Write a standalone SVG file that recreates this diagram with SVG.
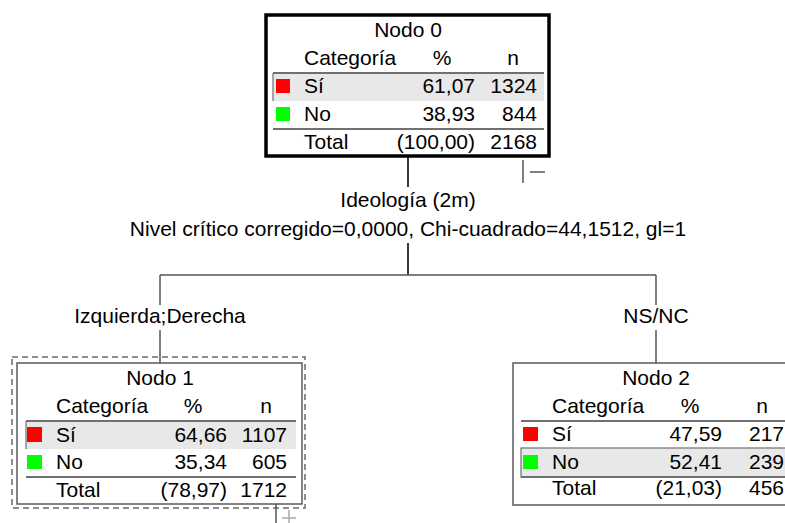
<svg xmlns="http://www.w3.org/2000/svg" width="785" height="523" viewBox="0 0 785 523">
  <style>
    text { font-family: "Liberation Sans", Arial, sans-serif; font-size: 21px; fill: #000; }
    .c { text-anchor: middle; }
    .r { text-anchor: end; }
    .box { fill: #fff; stroke: #5a5a5a; stroke-width: 1.5; }
    .box0 { fill: #fff; stroke: #000; stroke-width: 3.5; }
    .sel { fill: none; stroke: #6a6a6a; stroke-width: 1.5; stroke-dasharray: 6 4; }
    .sep { stroke: #707070; stroke-width: 2; }
    .hl { fill: #e8e8e8; }
    .hledge { stroke: #707070; stroke-width: 1.2; fill: none; }
    .red { fill: #ff0000; }
    .green { fill: #00ff00; }
    .link { stroke: #555; stroke-width: 1.5; fill: none; }
    .trunk { stroke: #222; stroke-width: 1.8; fill: none; }
    .toggle { stroke: #555; stroke-width: 1.5; fill: none; }
    .toggle-light { stroke: #aaa; stroke-width: 1.5; fill: none; }
  </style>

  <!-- connectors -->
  <g id="connectors">
    <line class="trunk" x1="408" y1="157" x2="408" y2="187"/>
    <line class="trunk" x1="408" y1="243" x2="408" y2="275"/>
    <line class="link" x1="160" y1="275" x2="656" y2="275"/>
    <line class="link" x1="160" y1="275" x2="160" y2="305"/>
    <line class="link" x1="160" y1="330" x2="160" y2="363"/>
    <line class="link" x1="656" y1="275" x2="656" y2="305"/>
    <line class="link" x1="656" y1="330" x2="656" y2="363"/>
    <text class="c" x="408" y="207">Ideología (2m)</text>
    <text class="c" x="408" y="236">Nivel crítico corregido=0,0000, Chi-cuadrado=44,1512, gl=1</text>
    <text class="c" x="160" y="323">Izquierda;Derecha</text>
    <text class="c" x="656" y="323">NS/NC</text>
  </g>

  <!-- root node -->
  <g id="node0">
    <rect class="box0" x="266" y="15" width="283" height="141"/>
    <text class="c" x="408" y="37">Nodo 0</text>
    <text x="304" y="65">Categoría</text>
    <text class="c" x="442" y="65">%</text>
    <text class="c" x="513" y="65">n</text>
    <rect class="hl" x="273" y="73" width="271" height="28"/>
    <line class="hledge" x1="273" y1="73" x2="273" y2="101"/>
    <line class="sep" x1="273" y1="73" x2="544" y2="73"/>
    <rect class="red" x="276" y="79" width="14" height="14"/>
    <text x="304" y="93">Sí</text>
    <text class="r" x="475" y="93">61,07</text>
    <text class="r" x="537" y="93">1324</text>
    <rect class="green" x="276" y="107" width="14" height="14"/>
    <text x="304" y="121">No</text>
    <text class="r" x="475" y="121">38,93</text>
    <text class="r" x="537" y="121">844</text>
    <line class="sep" x1="273" y1="129" x2="544" y2="129"/>
    <text x="304" y="149">Total</text>
    <text class="r" x="475" y="149">(100,00)</text>
    <text class="r" x="537" y="149">2168</text>
    <!-- collapse toggle -->
    <line class="toggle" x1="523" y1="160" x2="523" y2="183"/>
    <line class="toggle" x1="530" y1="172" x2="545" y2="172"/>
  </g>

  <!-- left child -->
  <g id="node1">
    <rect class="sel" x="12" y="357" width="293" height="151"/>
    <rect class="box" x="17" y="363" width="285" height="141"/>
    <text class="c" x="160" y="385">Nodo 1</text>
    <text x="56" y="413">Categoría</text>
    <text class="c" x="193" y="413">%</text>
    <text class="c" x="266" y="413">n</text>
    <rect class="hl" x="26" y="421" width="270" height="28"/>
    <line class="hledge" x1="26" y1="421" x2="26" y2="449"/>
    <line class="sep" x1="26" y1="421" x2="296" y2="421"/>
    <rect class="red" x="27" y="427" width="15" height="15"/>
    <text x="56" y="442">Sí</text>
    <text class="r" x="227" y="442">64,66</text>
    <text class="r" x="287" y="442">1107</text>
    <rect class="green" x="27" y="455" width="15" height="14"/>
    <text x="56" y="469">No</text>
    <text class="r" x="227" y="469">35,34</text>
    <text class="r" x="287" y="469">605</text>
    <line class="sep" x1="26" y1="477" x2="296" y2="477"/>
    <text x="56" y="497">Total</text>
    <text class="r" x="227" y="497">(78,97)</text>
    <text class="r" x="287" y="497">1712</text>
    <!-- expand toggle -->
    <line class="toggle" x1="276" y1="504" x2="276" y2="523"/>
    <line class="toggle-light" x1="282" y1="518" x2="296" y2="518"/>
    <line class="toggle-light" x1="289" y1="510" x2="289" y2="523"/>
  </g>

  <!-- right child -->
  <g id="node2">
    <rect class="box" x="513" y="363" width="285" height="142"/>
    <text class="c" x="656" y="385">Nodo 2</text>
    <text x="552" y="413">Categoría</text>
    <text class="c" x="690" y="413">%</text>
    <text class="c" x="762" y="413">n</text>
    <line class="sep" x1="521" y1="421" x2="792" y2="421"/>
    <rect class="red" x="523" y="427" width="15" height="14"/>
    <text x="552" y="441">Sí</text>
    <text class="r" x="722" y="441">47,59</text>
    <text class="r" x="784" y="441">217</text>
    <rect class="hl" x="521" y="448" width="271" height="29"/>
    <rect class="hledge" x="521" y="448" width="271" height="29"/>
    <rect class="green" x="523" y="455" width="15" height="14"/>
    <text x="552" y="469">No</text>
    <text class="r" x="722" y="469">52,41</text>
    <text class="r" x="784" y="469">239</text>
    <line class="sep" x1="521" y1="477" x2="792" y2="477"/>
    <text x="552" y="495">Total</text>
    <text class="r" x="722" y="495">(21,03)</text>
    <text class="r" x="784" y="495">456</text>
  </g>
</svg>
